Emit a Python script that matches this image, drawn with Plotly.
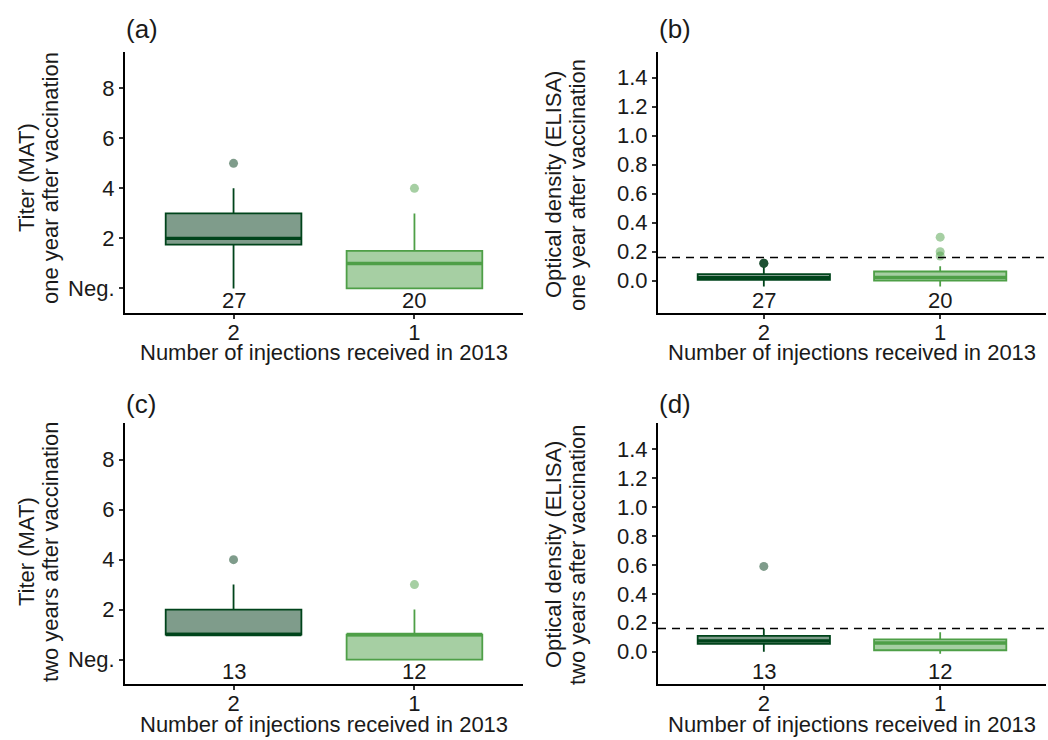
import plotly.graph_objects as go

# ---------------- data ----------------
groups = ["2", "1"]
counts_year1 = [27, 20]
counts_year2 = [13, 12]

# Panel (a): MAT titer, one year (0 = Neg.)
a_q1 = [1.75, 0.0]
a_med = [2.0, 1.0]
a_q3 = [3.0, 1.5]
a_lo = [0.0, 0.0]
a_hi = [4.0, 3.0]
a_out = [[5.0], [4.0]]

# Panel (b): ELISA OD, one year
b_q1 = [0.005, 0.0]
b_med = [0.02, 0.022]
b_q3 = [0.045, 0.063]
b_lo = [-0.04, -0.04]
b_hi = [0.092, 0.099]
b_out = [[0.12, 0.12, 0.12], [0.30, 0.20, 0.17]]

# Panel (c): MAT titer, two years
c_q1 = [1.0, 0.0]
c_med = [1.0, 1.0]
c_q3 = [2.0, 1.0]
c_lo = [1.0, 0.0]
c_hi = [3.0, 2.0]
c_out = [[4.0], [3.0]]

# Panel (d): ELISA OD, two years
d_q1 = [0.055, 0.01]
d_med = [0.075, 0.06]
d_q3 = [0.11, 0.085]
d_lo = [0.0, -0.014]
d_hi = [0.159, 0.135]
d_out = [[0.59], []]

elisa_cutoff = 0.16

titer_ticks = [0, 2, 4, 6, 8]
titer_ticktext = ["Neg.", "2", "4", "6", "8"]
od_ticks = [0.0, 0.2, 0.4, 0.6, 0.8, 1.0, 1.2, 1.4]
od_ticktext = ["0.0", "0.2", "0.4", "0.6", "0.8", "1.0", "1.2", "1.4"]

# ---------------- style ----------------
W, H = 1048, 740
FONT = "Liberation Sans, Arial, sans-serif"
TXT = "#1a1a1a"
line_cols = ["#00441b", "#4e9f47"]
fill_cols = ["rgba(0,58,24,0.5)", "rgba(78,159,71,0.5)"]

fig = go.Figure()

panels = [
    ("x", "y", a_q1, a_med, a_q3, a_lo, a_hi, a_out),
    ("x2", "y2", b_q1, b_med, b_q3, b_lo, b_hi, b_out),
    ("x3", "y3", c_q1, c_med, c_q3, c_lo, c_hi, c_out),
    ("x4", "y4", d_q1, d_med, d_q3, d_lo, d_hi, d_out),
]

for xa, ya, q1, med, q3, lo, hi, outs in panels:
    for i, g in enumerate(groups):
        fig.add_trace(go.Box(
            x=[g], q1=[q1[i]], median=[med[i]], q3=[q3[i]],
            lowerfence=[lo[i]], upperfence=[hi[i]],
            width=0.75, whiskerwidth=0, boxpoints=False,
            fillcolor=fill_cols[i], line=dict(color=line_cols[i], width=1.8),
            xaxis=xa, yaxis=ya, showlegend=False, hoverinfo="skip"))
        # thicker median line
        fig.add_trace(go.Box(
            x=[g], q1=[med[i]], median=[med[i]], q3=[med[i]],
            lowerfence=[med[i]], upperfence=[med[i]],
            width=0.75, whiskerwidth=0, boxpoints=False,
            fillcolor="rgba(0,0,0,0)", line=dict(color=line_cols[i], width=3.4),
            xaxis=xa, yaxis=ya, showlegend=False, hoverinfo="skip"))
        if outs[i]:
            fig.add_trace(go.Scatter(
                x=[g] * len(outs[i]), y=outs[i], mode="markers",
                marker=dict(size=9, color=fill_cols[i], line=dict(width=0)),
                xaxis=xa, yaxis=ya, showlegend=False, hoverinfo="skip"))

# ---------------- axes ----------------
xa_dom = [125 / W, 523 / W]
xb_dom = [658 / W, 1046 / W]
top_dom = [(H - 312.5) / H, (H - 51.7) / H]
bot_dom = [(H - 683.5) / H, (H - 423.3) / H]

common_x = dict(type="category", categoryorder="array", categoryarray=groups,
                range=[-0.6, 1.6], showline=True, linecolor="black", linewidth=2,
                ticks="outside", ticklen=4, tickwidth=1.5, tickcolor="#333",
                ticklabelstandoff=-5,
                tickfont=dict(family=FONT, size=22, color=TXT),
                showgrid=False, zeroline=False, fixedrange=True)
common_y = dict(showline=True, linecolor="black", linewidth=2,
                ticks="outside", ticklen=4, tickwidth=1.5, tickcolor="#333",
                tickfont=dict(family=FONT, size=22, color=TXT),
                showgrid=False, zeroline=False, fixedrange=True)

titer_y = dict(common_y, range=[-0.96, 9.46], tickvals=titer_ticks, ticktext=titer_ticktext)
od_y = dict(common_y, range=[-0.22, 1.58], tickvals=od_ticks, ticktext=od_ticktext)

fig.update_layout(
    xaxis=dict(common_x, domain=xa_dom, anchor="y"),
    yaxis=dict(titer_y, domain=top_dom, anchor="x"),
    xaxis2=dict(common_x, domain=xb_dom, anchor="y2"),
    yaxis2=dict(od_y, domain=top_dom, anchor="x2"),
    xaxis3=dict(common_x, domain=xa_dom, anchor="y3"),
    yaxis3=dict(titer_y, domain=bot_dom, anchor="x3"),
    xaxis4=dict(common_x, domain=xb_dom, anchor="y4"),
    yaxis4=dict(od_y, domain=bot_dom, anchor="x4"),
    boxmode="overlay",
    width=W, height=H,
    margin=dict(l=0, r=0, t=0, b=0),
    paper_bgcolor="white", plot_bgcolor="white",
    font=dict(family=FONT, size=22, color=TXT),
)

# dashed ELISA cut-off lines
for xa, ya in [("x2", "y2"), ("x4", "y4")]:
    fig.add_shape(type="line", xref=f"{xa} domain", yref=ya, x0=0, x1=1,
                  y0=elisa_cutoff, y1=elisa_cutoff,
                  line=dict(color="black", width=1.6, dash="8px,6px"))

ann = []
# count labels (category index positions on the category axes)
for xa, ya, cnts, yv in [("x", "y", counts_year1, -0.47), ("x2", "y2", counts_year1, -0.135),
                         ("x3", "y3", counts_year2, -0.47), ("x4", "y4", counts_year2, -0.135)]:
    for gi, n in enumerate(cnts):
        ann.append(dict(x=gi, y=yv, xref=xa, yref=ya, text=str(n), showarrow=False,
                        font=dict(family=FONT, size=22, color=TXT),
                        xanchor="center", yanchor="middle"))

def px_x(p):
    return p / W

def px_y(p):
    return (H - p) / H

# panel labels
for lab, xp, yp in [("(a)", 124, 29), ("(b)", 657, 29), ("(c)", 124, 404), ("(d)", 657, 404)]:
    ann.append(dict(x=px_x(xp), y=px_y(yp), xref="paper", yref="paper", text=lab,
                    showarrow=False, xanchor="left", yanchor="middle",
                    font=dict(family=FONT, size=26, color=TXT)))

# x-axis titles
for cx, yp in [((125 + 523) / 2, 352), ((658 + 1046) / 2, 352),
               ((125 + 523) / 2, 724), ((658 + 1046) / 2, 724)]:
    ann.append(dict(x=px_x(cx), y=px_y(yp), xref="paper", yref="paper",
                    text="Number of injections received in 2013", showarrow=False,
                    xanchor="center", yanchor="middle",
                    font=dict(family=FONT, size=22, color=TXT)))

# y-axis titles (two lines each)
ytitles = [
    ("Titer (MAT)", "one year after vaccination", 26, 50, 178),
    ("Optical density (ELISA)", "one year after vaccination", 553, 577, 185),
    ("Titer (MAT)", "two years after vaccination", 26, 50, 552),
    ("Optical density (ELISA)", "two years after vaccination", 553, 577, 555),
]
for l1, l2, x1, x2, yc in ytitles:
    for t, xp in [(l1, x1), (l2, x2)]:
        ann.append(dict(x=px_x(xp), y=px_y(yc), xref="paper", yref="paper", text=t,
                        showarrow=False, textangle=-90, xanchor="center", yanchor="middle",
                        font=dict(family=FONT, size=22, color=TXT)))

fig.update_layout(annotations=ann)

fig.write_html("out.html")
